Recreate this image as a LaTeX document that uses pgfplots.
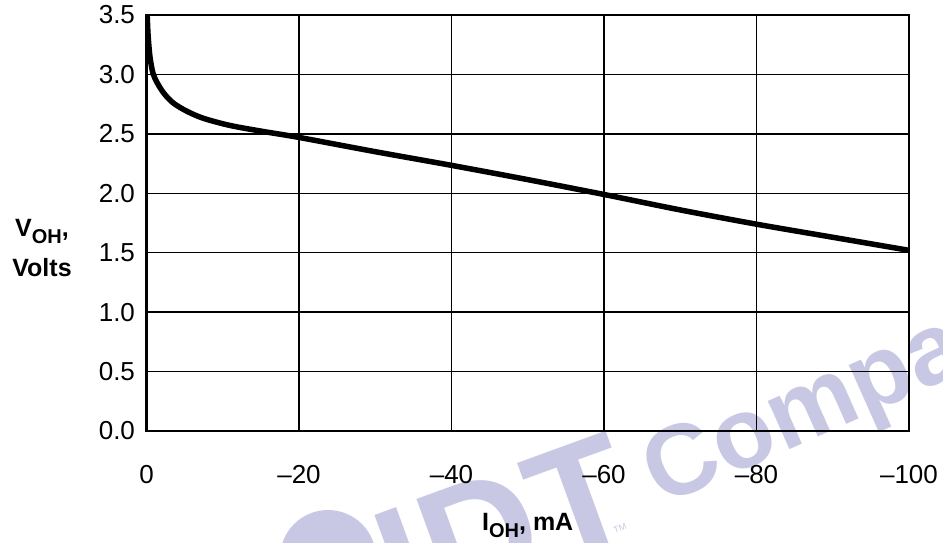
\documentclass[border=0pt]{standalone}
\usepackage{fontspec}
\setmainfont{Liberation Sans}
\usepackage{pgfplots}
\pgfplotsset{compat=1.18}
\definecolor{wmark}{RGB}{200,200,228}
% bold subscript, a bit larger and lower than \textsubscript
\newcommand\sub[1]{\raisebox{-0.3em}{\fontsize{20}{20}\selectfont\bfseries #1}}

\begin{document}
\begin{tikzpicture}[x=1pt,y=1pt]
  \useasboundingbox (0,0) rectangle (943,542);
  % faint watermark behind the chart
  \begin{scope}
    \clip (0,0) rectangle (943,542);
    \fill[wmark] (328,-16) circle (48);
    \node[wmark, rotate=20, anchor=base, font=\bfseries\fontsize{160}{160}\selectfont] at (524,-36) {IDT};
    \node[wmark, rotate=24, anchor=base west, font=\bfseries\fontsize{100}{100}\selectfont] at (658,34) {Compa};
    \node[wmark, rotate=20, font=\fontsize{9}{9}\selectfont] at (620,14) {TM};
  \end{scope}

  \begin{axis}[
      at={(146.5pt,111pt)}, anchor=south west,
      scale only axis, width=762.5pt, height=416pt,
      xmin=-100, xmax=0, x dir=reverse,
      ymin=0, ymax=3.5,
      xtick={0,-20,-40,-60,-80,-100},
      xticklabels={0,–20,–40,–60,–80,–100},
      ytick={0,0.5,1,1.5,2,2.5,3,3.5},
      yticklabels={0.0,0.5,1.0,1.5,2.0,2.5,3.0,3.5},
      major tick length=0pt,
      tick label style={font=\fontsize{26}{30}\selectfont},
      xticklabel style={yshift=-31pt},
      yticklabel style={xshift=-8pt},
      grid=major,
      major grid style={black, line width=1.3pt},
      axis line style={line width=2.6pt},
      xlabel={\textbf{I\sub{OH}, mA}},
      xlabel style={at={(axis description cs:0.5,0)}, anchor=base, yshift=-99pt,
        font=\fontsize{25}{30}\selectfont},
      ylabel={\textbf{V\sub{OH},}\\[10pt]\textbf{Volts}},
      ylabel style={at={(axis description cs:-0.137,0.44)}, anchor=center, rotate=-90,
        align=center, font=\fontsize{25}{30}\selectfont},
    ]
    \addplot[black, line width=5.5pt, smooth, tension=0.5, line join=round] coordinates {
      (-0.08,3.52) (-0.2,3.34) (-0.45,3.15) (-0.85,3.01)
      (-1.4,2.93) (-2.3,2.84) (-3.5,2.76) (-5.3,2.69) (-7.5,2.63)
      (-11,2.57) (-15.3,2.52) (-20,2.47) (-30,2.35) (-40,2.235)
      (-50,2.115) (-60,1.99) (-70,1.86) (-80,1.74) (-90,1.63) (-100,1.52)
    };
  \end{axis}
\end{tikzpicture}
\end{document}
